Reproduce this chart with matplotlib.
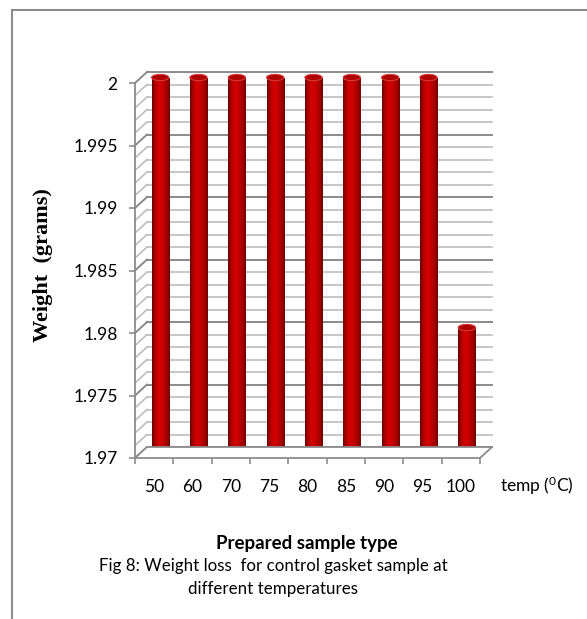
# Fig 8: perda de peso da junta de controle em diferentes temperaturas

import numpy as np
import matplotlib.pyplot as plt
from matplotlib.patches import Ellipse, Polygon
from matplotlib.colors import LinearSegmentedColormap
from matplotlib.transforms import offset_copy, IdentityTransform
from matplotlib.lines import Line2D

# dados
temps = ['50', '60', '70', '75', '80', '85', '90', '95', '100']
weight = [2.0, 2.0, 2.0, 2.0, 2.0, 2.0, 2.0, 2.0, 1.98]
y_ticks = [1.97, 1.975, 1.98, 1.985, 1.99, 1.995, 2.0]
y_tick_labels = ['1.97', '1.975', '1.98', '1.985', '1.99', '1.995', '2']

plt.rcParams['font.family'] = 'Lato'
plt.rcParams['mathtext.fontset'] = 'custom'
plt.rcParams['mathtext.rm'] = 'Lato'
plt.rcParams['mathtext.default'] = 'rm'

W, H = 587, 619
fig = plt.figure(figsize=(W / 100, H / 100), dpi=100)
ax = fig.add_axes([135 / W, 1 - 458 / H, 345 / W, 375 / H])
ax.set_xlim(-0.5, 8.5)
ax.set_ylim(1.97, 2.0)
for s in ax.spines.values():
    s.set_visible(False)
ax.patch.set_visible(False)

# profundidade 3D (pixels)
dx, dy = 12, 11
back = offset_copy(ax.transData, fig=fig, x=dx, y=dy, units='dots')
mid = offset_copy(ax.transData, fig=fig, x=dx / 2, y=dy / 2, units='dots')

grid_major = '#8a8a8a'
grid_minor = '#bdbdbd'
edge = '#8c8c8c'

# parede do fundo e parede lateral
levels = np.round(np.arange(1.97, 2.0005, 0.001), 3)
for k, v in enumerate(levels):
    major = (k % 5 == 0)
    c = grid_major if major else grid_minor
    lw = 1.4 if major else 1.2
    ax.plot([-0.5, 8.5], [v, v], transform=back, color=c, lw=lw, clip_on=False, zorder=1)
    p0 = ax.transData.transform((-0.5, v))
    fig.add_artist(Line2D([p0[0], p0[0] + dx], [p0[1], p0[1] + dy], transform=IdentityTransform(),
                          color=c, lw=lw, zorder=1))

# piso
f0 = ax.transData.transform((-0.5, 1.97))
f1 = ax.transData.transform((8.5, 1.97))
floor = Polygon([f0, f1, f1 + [dx, dy], f0 + [dx, dy]], closed=True, transform=IdentityTransform(),
                facecolor='white', edgecolor=edge, lw=1.3, zorder=2)
fig.add_artist(floor)

# eixo vertical da frente
top = ax.transData.transform((-0.5, 2.0))
fig.add_artist(Line2D([f0[0], top[0]], [f0[1], top[1]], transform=IdentityTransform(),
                      color=edge, lw=1.3, zorder=3))

# cilindros
red_cm = LinearSegmentedColormap.from_list('cyl', [
    (0.0, '#6a0000'), (0.15, '#a80000'), (0.38, '#d60000'),
    (0.55, '#cc0000'), (0.85, '#a00000'), (1.0, '#6e0000')])
grad = np.linspace(0, 1, 64).reshape(1, -1)
bw = 0.45
cap_h = 0.0005

bars = ax.bar(range(len(temps)), np.array(weight) - 1.97, bottom=1.97, width=bw,
              transform=mid, color='#c00000', lw=0, zorder=4, clip_on=False)
for i, (b, v) in enumerate(zip(bars, weight)):
    x0 = i - bw / 2
    ax.add_patch(Ellipse((i, 1.97), bw, cap_h, transform=mid, facecolor='#9a0000',
                         lw=0, zorder=4, clip_on=False))
    im = ax.imshow(grad, extent=[x0, x0 + bw, 1.97, v], transform=mid, aspect='auto',
                   cmap=red_cm, interpolation='bilinear', zorder=5)
    im.set_clip_path(b)
    ax.add_patch(Ellipse((i, v), bw, cap_h, transform=mid, facecolor='#b00000',
                         edgecolor='#d23a3a', lw=0.8, zorder=6, clip_on=False))
ax.set_xlim(-0.5, 8.5)
ax.set_ylim(1.97, 2.0)

# ticks
ax.set_yticks(y_ticks)
ax.set_yticklabels(y_tick_labels, fontsize=12.5)
ax.tick_params(axis='y', length=4.5, width=1.2, color=edge, pad=8)
ax.set_xticks(np.arange(-0.5, 9, 1))
ax.set_xticklabels([])
ax.tick_params(axis='x', which='major', length=4.5, width=1.2, color=edge)
ax.set_xticks(range(len(temps)), minor=True)
ax.set_xticklabels(temps, minor=True, fontsize=12.5)
ax.tick_params(axis='x', which='minor', length=0, pad=15)

fig.text(500 / W, 1 - 486 / H, r'temp ($^{0}$C)', fontsize=12.5, ha='left', va='center')
fig.text(43 / W, 1 - 265 / H, 'Weight  (grams)', rotation=90, family='Liberation Serif',
         weight='bold', fontsize=16, ha='center', va='center')
fig.text(307 / W, 1 - 543 / H, 'Prepared sample type', fontsize=13.5, weight='bold',
         ha='center', va='center')
fig.text(273 / W, 1 - 566 / H, 'Fig 8: Weight loss  for control gasket sample at',
         fontsize=12.2, ha='center', va='center')
fig.text(273 / W, 1 - 589 / H, 'different temperatures', fontsize=12.2, ha='center', va='center')

# moldura
fig.add_artist(Line2D([12 / W, 12 / W], [0, 1 - 10 / H], transform=fig.transFigure, color='#8c8c8c', lw=1.5))
fig.add_artist(Line2D([12 / W, 1], [1 - 10 / H, 1 - 10 / H], transform=fig.transFigure, color='#8c8c8c', lw=1.5))

fig.savefig('out.png', dpi=100)
